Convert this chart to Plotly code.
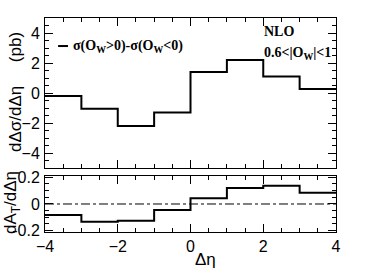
import plotly.graph_objects as go

bin_edges = [-4, -3, -2, -1, 0, 1, 2, 3, 4]
dsigma = [-0.2, -1.05, -2.2, -1.3, 1.4, 2.2, 1.1, 0.27]
dAT = [-0.083, -0.133, -0.125, -0.045, 0.043, 0.12, 0.137, 0.085]
x_ticks = [-4, -2, 0, 2, 4]
top_ticks = [-4, -2, 0, 2, 4]
bot_ticks = [-0.2, 0, 0.2]

fig = go.Figure()
fig.add_trace(go.Scatter(x=bin_edges, y=dsigma + [dsigma[-1]], mode="lines",
                         line=dict(shape="hv", color="black", width=2),
                         xaxis="x", yaxis="y", showlegend=False))
fig.add_trace(go.Scatter(x=bin_edges, y=dAT + [dAT[-1]], mode="lines",
                         line=dict(shape="hv", color="black", width=2),
                         xaxis="x2", yaxis="y2", showlegend=False))
fig.add_trace(go.Scatter(x=[bin_edges[0], bin_edges[-1]], y=[0, 0], mode="lines",
                         line=dict(color="black", width=1, dash="dashdot"),
                         xaxis="x2", yaxis="y2", showlegend=False))

sans = "Liberation Sans, Arial, sans-serif"
tickfont = dict(family=sans, size=16, color="black")
common_x = dict(range=[-4, 4], showline=True, linecolor="black", linewidth=1, mirror="ticks",
                ticks="inside", ticklen=8, tickcolor="black", showgrid=False, zeroline=False,
                tickvals=x_ticks, automargin=False,
                minor=dict(dtick=0.5, ticks="inside", ticklen=4, tickcolor="black", showgrid=False))
fig.update_layout(
    width=374, height=268,
    margin=dict(l=45, r=38, t=18, b=36),
    paper_bgcolor="white", plot_bgcolor="white",
    xaxis=dict(common_x, anchor="y", domain=[0, 1], showticklabels=False),
    yaxis=dict(domain=[0.299, 1.0], range=[-5, 5], anchor="x", showline=True, linecolor="black",
               linewidth=1, mirror="ticks", ticks="inside", ticklen=8, tickcolor="black",
               showgrid=False, zeroline=False, tickvals=top_ticks, tickfont=tickfont,
               automargin=False, ticklabelstandoff=1,
               minor=dict(dtick=0.5, ticks="inside", ticklen=4, tickcolor="black", showgrid=False)),
    xaxis2=dict(common_x, anchor="y2", domain=[0, 1], tickfont=tickfont, tickformat="d",
                ticklabelstandoff=0),
    yaxis2=dict(domain=[0, 0.2617], range=[-0.21, 0.21], anchor="x2", showline=True,
                linecolor="black", linewidth=1, mirror="ticks", ticks="inside", ticklen=8,
                tickcolor="black", showgrid=False, zeroline=False, tickvals=bot_ticks,
                ticktext=["-0.2", "0", "0.2"], tickfont=tickfont, automargin=False,
                ticklabelstandoff=1,
                minor=dict(dtick=0.05, ticks="inside", ticklen=4, tickcolor="black", showgrid=False)),
)

times = "Liberation Serif, Times New Roman, serif"
fig.add_shape(type="line", xref="paper", yref="paper", x0=0.045, x1=0.079, y0=0.869, y1=0.869,
              line=dict(color="black", width=2))
fig.add_annotation(xref="paper", yref="paper", x=0.088, y=0.869, xanchor="left", yanchor="middle",
                   text="<b>σ(O<sub>W</sub>>0)-σ(O<sub>W</sub><0)</b>", showarrow=False,
                   font=dict(family=times, size=14, color="black"))
fig.add_annotation(xref="paper", yref="paper", x=0.744, y=0.935, xanchor="left", yanchor="middle",
                   text="<b>NLO</b>", showarrow=False, font=dict(family=times, size=14, color="black"))
fig.add_annotation(xref="paper", yref="paper", x=0.744, y=0.836, xanchor="left", yanchor="middle",
                   text="<b>0.6<|O<sub>W</sub>|<1</b>", showarrow=False,
                   font=dict(family=times, size=14, color="black"))
fig.add_annotation(xref="paper", yref="paper", x=-0.103, y=0.654, xanchor="center", yanchor="middle",
                   text="dΔσ/dΔη     (pb)", textangle=-90, showarrow=False,
                   font=dict(family=sans, size=17, color="black"))
fig.add_annotation(xref="paper", yref="paper", x=-0.113, y=0.136, xanchor="center", yanchor="middle",
                   text="dA<sub>T</sub>/dΔη", textangle=-90, showarrow=False,
                   font=dict(family=sans, size=17, color="black"))
fig.add_annotation(xref="paper", yref="paper", x=0.55, y=-0.127, xanchor="center", yanchor="middle",
                   text="Δη", showarrow=False,
                   font=dict(family=sans, size=17, color="black"))

fig.write_html("out.html", post_script="document.body.style.margin='0';",
               config={"displayModeBar": False})
